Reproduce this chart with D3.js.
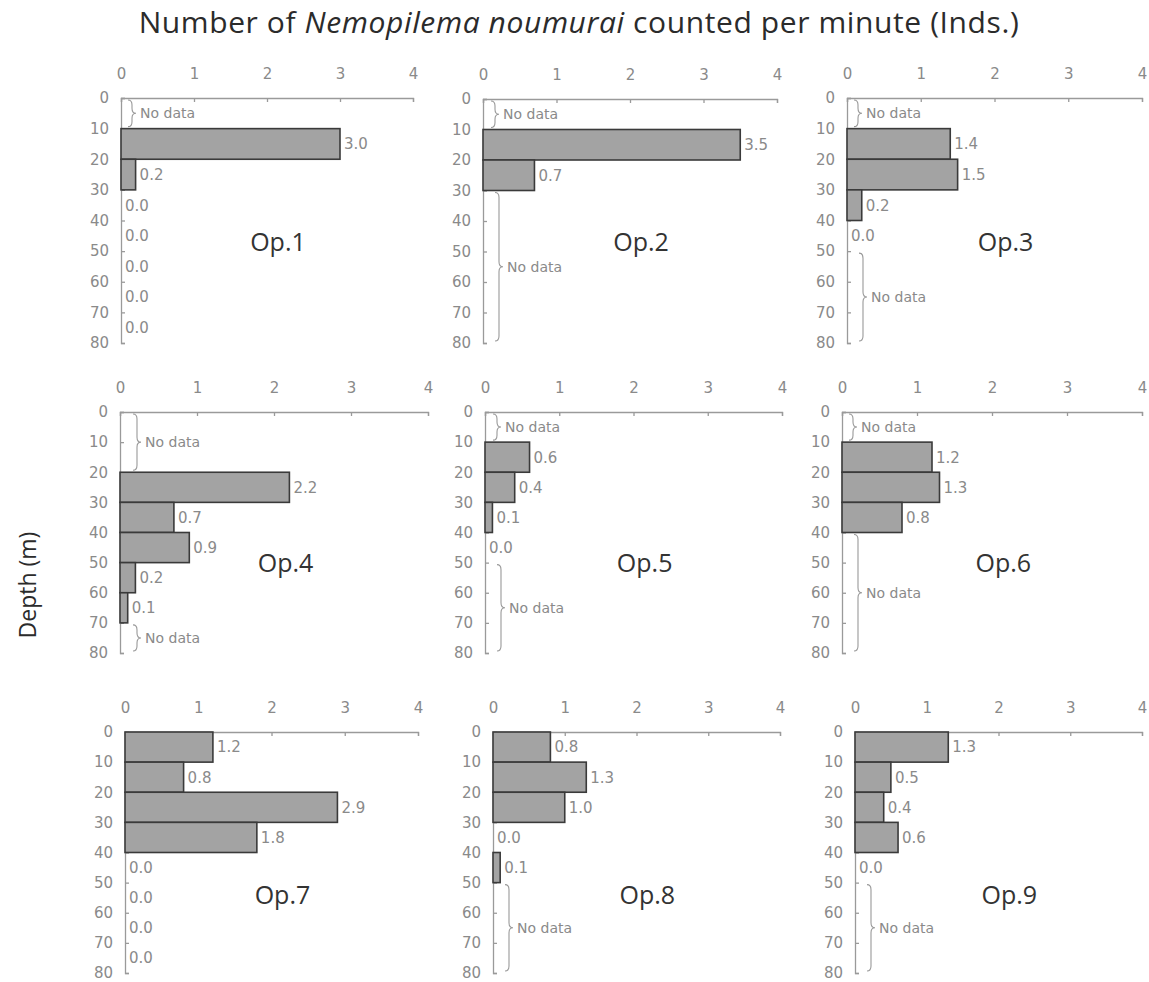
<!DOCTYPE html>
<html>
<head>
<meta charset="utf-8">
<script src="https://cdn.jsdelivr.net/npm/d3@7"></script>
<style>
  body { margin: 0; background: #fff; }
  svg { display: block; }
</style>
</head>
<body>
<script>
const width = 1149;
const height = 982;

// each panel: 8 depth layers of 10 m, null means "No data"
const depthBins = [0, 10, 20, 30, 40, 50, 60, 70];
const depthTicks = [0, 10, 20, 30, 40, 50, 60, 70, 80];
const countTicks = [0, 1, 2, 3, 4];
const panelNames = ["Op.1", "Op.2", "Op.3", "Op.4", "Op.5", "Op.6", "Op.7", "Op.8", "Op.9"];

const op1 = [null, 3.0, 0.2, 0.0, 0.0, 0.0, 0.0, 0.0];
const op2 = [null, 3.5, 0.7, null, null, null, null, null];
const op3 = [null, 1.4, 1.5, 0.2, 0.0, null, null, null];
const op4 = [null, null, 2.2, 0.7, 0.9, 0.2, 0.1, null];
const op5 = [null, 0.6, 0.4, 0.1, 0.0, null, null, null];
const op6 = [null, 1.2, 1.3, 0.8, null, null, null, null];
const op7 = [1.2, 0.8, 2.9, 1.8, 0.0, 0.0, 0.0, 0.0];
const op8 = [0.8, 1.3, 1.0, 0.0, 0.1, null, null, null];
const op9 = [1.3, 0.5, 0.4, 0.6, 0.0, null, null, null];
const panelValues = [op1, op2, op3, op4, op5, op6, op7, op8, op9];

// where each panel sits on the page (pixel box of the plot area)
const panelBoxes = [
      {left: 121, right: 413, top: 98, bottom: 343, labelDepth: 47, braceX: 7},
      {left: 483, right: 777, top: 99, bottom: 343, labelDepth: 47, braceX: 8},
      {left: 847, right: 1142, top: 98, bottom: 343, labelDepth: 47, braceX: 7},
      {left: 120, right: 428, top: 412, bottom: 653, labelDepth: 50, braceX: 13},
      {left: 485, right: 782, top: 412, bottom: 653, labelDepth: 50, braceX: 8},
      {left: 842, right: 1142, top: 412, bottom: 653, labelDepth: 50, braceX: 7},
      {left: 125, right: 418, top: 732, bottom: 973, labelDepth: 54, braceX: 7},
      {left: 493, right: 780, top: 732, bottom: 973, labelDepth: 54, braceX: 7},
      {left: 855, right: 1142, top: 732, bottom: 973, labelDepth: 54, braceX: 7}
];

const axisColor = "#9a9a9a";
const tickFont = "'DejaVu Sans', sans-serif";


const svg = d3.select("body")
      .append("svg")
      .attr("width", width)
      .attr("height", height);


function bracePath(x, yTop, yBot, w) {
      const mid = (yTop + yBot) / 2;
      const r = Math.min(5, (yBot - yTop) / 4);
      const xm = x + w / 2;
      return `M${x},${yTop} Q${xm},${yTop} ${xm},${yTop + r} L${xm},${mid - r} ` +
            `Q${xm},${mid} ${x + w},${mid} Q${xm},${mid} ${xm},${mid + r} ` +
            `L${xm},${yBot - r} Q${xm},${yBot} ${x},${yBot}`;
}


// runs of consecutive null layers -> [first, last] index pairs
function noDataRuns(values) {
      const runs = [];
      let start = null;
      values.forEach((v, i) => {
            if (v === null && start === null) start = i;
            if (v !== null && start !== null) {
                  runs.push([start, i - 1]);
                  start = null;
            }
      });
      if (start !== null) runs.push([start, values.length - 1]);
      return runs;
}


function renderPanel(values, name, box) {
      const xScale = d3.scaleLinear()
            .domain([0, 4])
            .range([0, box.right - box.left]);

      const yScale = d3.scaleLinear()
            .domain([0, 80])
            .range([0, box.bottom - box.top]);

      const g = svg.append("g")
            .attr("transform", `translate(${box.left}, ${box.top})`);

      const xAxis = g.append("g")
            .call(d3.axisTop(xScale)
                  .tickValues(countTicks)
                  .tickSize(-4)
                  .tickPadding(19)
                  .tickFormat(d3.format("d")));

      const yAxis = g.append("g")
            .call(d3.axisLeft(yScale)
                  .tickValues(depthTicks)
                  .tickSize(-4)
                  .tickPadding(12));

      [xAxis, yAxis].forEach(axis => {
            axis.selectAll(".domain, .tick line")
                  .attr("stroke", axisColor)
                  .attr("stroke-width", 1.3);
            axis.selectAll("text")
                  .attr("fill", "#8a8a8a")
                  .style("font-family", tickFont)
                  .style("font-size", "15px");
      });

      const rows = values.map((v, i) => ({depth: depthBins[i], value: v}));

      g.selectAll("rect.bar")
            .data(rows.filter(d => d.value !== null && d.value > 0))
            .enter()
            .append("rect")
            .attr("class", "bar")
            .attr("x", 0)
            .attr("y", d => yScale(d.depth))
            .attr("width", d => xScale(d.value))
            .attr("height", d => yScale(d.depth + 10) - yScale(d.depth))
            .attr("fill", "#a3a3a3")
            .attr("stroke", "#3a3a3a")
            .attr("stroke-width", 1.6);

      g.selectAll("text.value")
            .data(rows.filter(d => d.value !== null))
            .enter()
            .append("text")
            .attr("class", "value")
            .attr("x", d => xScale(d.value) + 4)
            .attr("y", d => yScale(d.depth + 5))
            .attr("dy", "0.36em")
            .attr("fill", "#8a8a8a")
            .style("font-family", tickFont)
            .style("font-size", "15px")
            .text(d => d.value.toFixed(1));

      noDataRuns(values).forEach(([first, last]) => {
            const yTop = yScale(depthBins[first]) + 2;
            const yBot = yScale(depthBins[last] + 10) - 2;
            const bx = last > first ? Math.max(box.braceX, 12) : box.braceX;

            g.append("path")
                  .attr("d", bracePath(bx, yTop, yBot, 8))
                  .attr("fill", "none")
                  .attr("stroke", "#999")
                  .attr("stroke-width", 1.1);

            g.append("text")
                  .attr("x", bx + 12)
                  .attr("y", (yTop + yBot) / 2)
                  .attr("dy", "0.36em")
                  .attr("fill", "#8a8a8a")
                  .style("font-family", tickFont)
                  .style("font-size", "14px")
                  .text("No data");
      });

      g.append("text")
            .attr("x", xScale(2.15))
            .attr("y", yScale(box.labelDepth))
            .attr("dy", "0.36em")
            .attr("text-anchor", "middle")
            .attr("fill", "#333")
            .style("font-family", "'Open Sans', sans-serif")
            .style("font-size", "25px")
            .text(name);
}


panelValues.forEach((values, i) => renderPanel(values, panelNames[i], panelBoxes[i]));

const title = svg.append("text")
      .attr("x", 579)
      .attr("y", 33)
      .attr("text-anchor", "middle")
      .attr("fill", "#2b2b2b")
      .style("font-family", "'Open Sans', sans-serif")
      .style("font-size", "30px")
      .style("letter-spacing", "0.6px");
title.append("tspan").text("Number of ");
title.append("tspan").style("font-style", "italic").text("Nemopilema noumurai");
title.append("tspan").text(" counted per minute (Inds.)");

svg.append("text")
      .attr("transform", "translate(36, 585) rotate(-90)")
      .attr("text-anchor", "middle")
      .attr("fill", "#2b2b2b")
      .style("font-family", "'Open Sans', sans-serif")
      .style("font-size", "23px")
      .text("Depth (m)");
</script>
</body>
</html>
